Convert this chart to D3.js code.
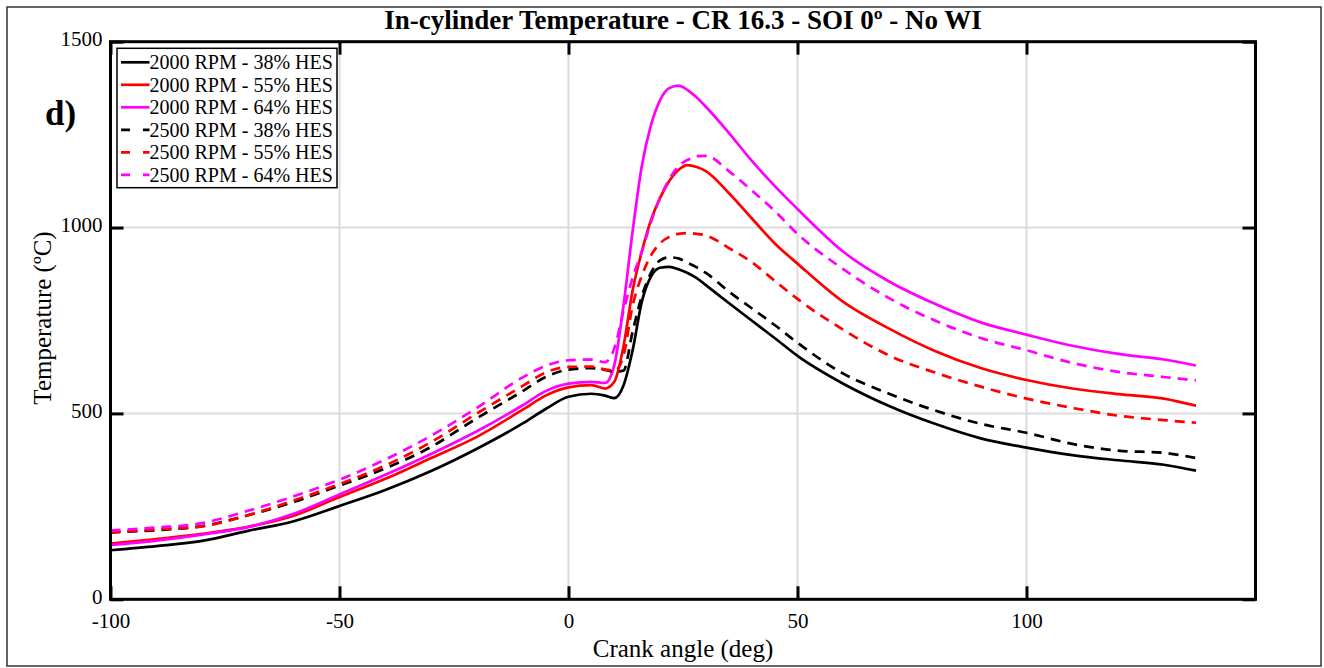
<!DOCTYPE html>
<html>
<head>
<meta charset="utf-8">
<script src="https://cdn.jsdelivr.net/npm/d3@7"></script>
<style>
  body { margin: 0; background: #fff; }
  svg { display: block; font-family: "Liberation Serif", "Times New Roman", serif; }
</style>
</head>
<body>
<div id="grafico"></div>
<script>
// crank angle (deg), shared by every series
const crankAngle = [-100, -90, -80, -70, -60, -50, -40, -30, -20, -10, -5, 0, 5, 8, 10, 12, 14, 16, 18, 20, 22, 24, 26, 28, 30, 35, 40, 45, 50, 60, 70, 80, 90, 100, 110, 120, 130, 137];

// temperatures (ºC)
const t2000_38 = [132, 143, 157, 184, 210, 251, 294, 345, 405, 473, 512, 545, 553, 548, 541, 575, 670, 800, 868, 892, 894, 888, 878, 864, 845, 797, 750, 703, 655, 580, 520, 472, 433, 408, 388, 374, 362, 346];
const t2000_55 = [150, 162, 176, 195, 225, 275, 324, 380, 437, 510, 548, 570, 576, 567, 585, 680, 831, 935, 1020, 1080, 1125, 1155, 1168, 1163, 1152, 1093, 1025, 958, 903, 800, 728, 668, 622, 590, 567, 552, 540, 521];
const t2000_64 = [146, 158, 174, 194, 230, 282, 335, 391, 452, 522, 560, 580, 585, 582, 630, 790, 990, 1165, 1275, 1343, 1375, 1382, 1370, 1350, 1325, 1255, 1180, 1112, 1050, 935, 855, 795, 745, 712, 682, 660, 645, 629];
const t2500_38 = [180, 186, 197, 226, 262, 306, 352, 410, 487, 560, 598, 618, 622, 617, 612, 615, 720, 815, 878, 912, 920, 917, 905, 893, 878, 828, 783, 738, 690, 607, 553, 508, 472, 448, 418, 400, 394, 380];
const t2500_55 = [180, 188, 196, 226, 266, 310, 360, 423, 500, 574, 610, 625, 626, 618, 615, 655, 790, 870, 925, 958, 975, 983, 985, 983, 979, 945, 907, 857, 808, 725, 656, 610, 572, 540, 515, 494, 482, 475];
const t2500_64 = [185, 193, 205, 238, 277, 322, 376, 440, 515, 597, 628, 643, 645, 638, 675, 775, 865, 935, 1015, 1080, 1130, 1165, 1182, 1192, 1193, 1152, 1100, 1045, 983, 888, 810, 750, 703, 670, 636, 612, 598, 589];

const etiquetas = ["2000 RPM - 38% HES", "2000 RPM - 55% HES", "2000 RPM - 64% HES",
                   "2500 RPM - 38% HES", "2500 RPM - 55% HES", "2500 RPM - 64% HES"];
const colores = ["#000000", "#ff0000", "#ff00ff", "#000000", "#ff0000", "#ff00ff"];
const discontinua = [false, false, false, true, true, true];
const valores = [t2000_38, t2000_55, t2000_64, t2500_38, t2500_55, t2500_64];

const xTicks = [-100, -50, 0, 50, 100];
const yTicks = [0, 500, 1000, 1500];

const series = etiquetas.map((nombre, i) => ({
    nombre,
    color: colores[i],
    dash: discontinua[i],
    puntos: crankAngle.map((a, j) => ({ a, t: valores[i][j] }))
}));

const W = 1324, H = 668;
const margin = { top: 41.7, right: 68.5, bottom: 68.7, left: 110.5 };
const width = W - margin.left - margin.right;
const height = H - margin.top - margin.bottom;

const svg = d3.select("#grafico")
    .append("svg")
    .attr("width", W)
    .attr("height", H);

// marco exterior
svg.append("rect")
    .attr("x", 7).attr("y", 7)
    .attr("width", 1314).attr("height", 659)
    .attr("fill", "none")
    .attr("stroke", "#333")
    .attr("stroke-width", 1.5);

const g = svg.append("g")
    .attr("transform", `translate(${margin.left}, ${margin.top})`);

const x = d3.scaleLinear().domain([-100, 150]).range([0, width]);
const y = d3.scaleLinear().domain([0, 1500]).range([height, 0]);

// grilla
g.append("g").selectAll("line")
    .data(xTicks)
    .enter().append("line")
    .attr("x1", d => x(d)).attr("x2", d => x(d))
    .attr("y1", 0).attr("y2", height)
    .attr("stroke", "#dcdcdc").attr("stroke-width", 2);

g.append("g").selectAll("line")
    .data(yTicks)
    .enter().append("line")
    .attr("x1", 0).attr("x2", width)
    .attr("y1", d => y(d)).attr("y2", d => y(d))
    .attr("stroke", "#dcdcdc").attr("stroke-width", 2);

// curvas
const linea = d3.line()
    .x(d => x(d.a))
    .y(d => y(d.t))
    .curve(d3.curveMonotoneX);

g.selectAll(".curva")
    .data(series)
    .enter()
    .append("path")
    .attr("class", "curva")
    .attr("d", d => linea(d.puntos))
    .attr("fill", "none")
    .attr("stroke", d => d.color)
    .attr("stroke-width", 2.7)
    .attr("stroke-dasharray", d => d.dash ? "10,7" : null);

// ejes (ticks hacia adentro, en los cuatro lados)
const tick = 13;
const fmt = d => String(d);
function estiloEje(sel) {
    sel.attr("font-size", "21px").attr("font-family", "Liberation Serif, serif");
    sel.select(".domain").remove();
    sel.selectAll(".tick line").attr("stroke", "#000").attr("stroke-width", 3);
    sel.selectAll(".tick text").attr("fill", "#000");
}

g.append("g")
    .attr("transform", `translate(0, ${height})`)
    .call(d3.axisBottom(x).tickValues(xTicks).tickFormat(fmt).tickSizeInner(-tick).tickSizeOuter(0).tickPadding(14))
    .call(estiloEje);

g.append("g")
    .call(d3.axisTop(x).tickValues(xTicks).tickSizeInner(-tick).tickSizeOuter(0).tickFormat(""))
    .call(estiloEje);

g.append("g")
    .call(d3.axisLeft(y).tickValues(yTicks).tickFormat(fmt).tickSizeInner(-tick).tickSizeOuter(0).tickPadding(8))
    .call(estiloEje)
    .selectAll(".tick text").attr("dy", "0.18em");

g.append("g")
    .attr("transform", `translate(${width}, 0)`)
    .call(d3.axisRight(y).tickValues(yTicks).tickSizeInner(-tick).tickSizeOuter(0).tickFormat(""))
    .call(estiloEje);

g.append("rect")
    .attr("width", width).attr("height", height)
    .attr("fill", "none")
    .attr("stroke", "#000")
    .attr("stroke-width", 3);

// leyenda
const leyenda = g.append("g").attr("transform", "translate(6.5, 6.6)");
leyenda.append("rect")
    .attr("width", 220).attr("height", 139.4)
    .attr("fill", "#fff")
    .attr("stroke", "#000")
    .attr("stroke-width", 1.5);

const item = leyenda.selectAll(".item")
    .data(series)
    .enter().append("g")
    .attr("class", "item")
    .attr("transform", (d, i) => `translate(0, ${14 + i * 22.5})`);

item.append("line")
    .attr("x1", 4).attr("x2", 32.5)
    .attr("y1", 0).attr("y2", 0)
    .attr("stroke", d => d.color)
    .attr("stroke-width", 2.7)
    .attr("stroke-dasharray", d => d.dash ? "9,13,7" : null);

item.append("text")
    .attr("x", 32.5)
    .attr("dy", "0.35em")
    .attr("font-size", "20px")
    .attr("fill", "#000")
    .text(d => d.nombre);

// textos
svg.append("text")
    .attr("x", 683).attr("y", 29)
    .attr("text-anchor", "middle")
    .attr("font-size", "27px")
    .attr("font-weight", "bold")
    .text("In-cylinder Temperature - CR 16.3 - SOI 0º - No WI");

svg.append("text")
    .attr("x", 45).attr("y", 125)
    .attr("font-size", "35px")
    .attr("font-weight", "bold")
    .text("d)");

svg.append("text")
    .attr("x", 683).attr("y", 657)
    .attr("text-anchor", "middle")
    .attr("font-size", "25px")
    .text("Crank angle (deg)");

svg.append("text")
    .attr("transform", "translate(51, 318) rotate(-90)")
    .attr("text-anchor", "middle")
    .attr("font-size", "25px")
    .text("Temperature (ºC)");
</script>
</body>
</html>
